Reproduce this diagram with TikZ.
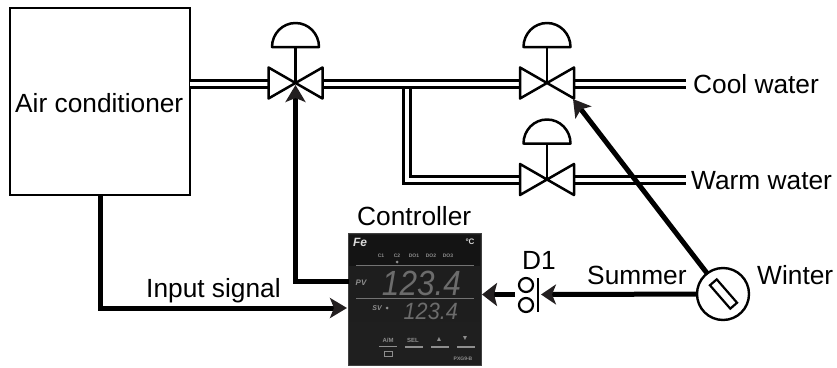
\documentclass[tikz,border=0pt]{standalone}
\usepackage{fontspec}
\setmainfont{Liberation Sans}
\usetikzlibrary{arrows.meta}
\definecolor{ink}{HTML}{231F20}
\definecolor{panel}{HTML}{1E1E1E}
\definecolor{seg}{HTML}{6C6C6C}
\definecolor{lab}{HTML}{8E8E8E}
\tikzset{
  x=1pt,y=-1pt,
  label text/.style={anchor=base west,inner sep=0pt,text=black,font=\fontsize{26.3}{30}\selectfont},
  pipe/.style={draw=black,line width=3pt,double=white,double distance=4pt},
  valve/.pic={
    \draw[line width=2.5pt,line join=round,fill=white] (-27,-15.5) -- (27,15.5) -- (27,-15.5) -- (-27,15.5) -- cycle;
    \draw[line width=2.5pt] (0,0) -- (0,-36);
    \draw[line width=2.5pt,line join=round,fill=white] (-23.5,-36) .. controls (-23.5,-49.3) and (-13,-60) .. (0,-60) .. controls (13,-60) and (23.5,-49.3) .. (23.5,-36) -- cycle;
  },
  signal/.style={draw=black,line width=5pt,line join=miter},
  head/.style={-{Stealth[length=#1,width=20pt,inset=4pt,color=ink]}},
  head/.default=17pt,
  seglabel/.style={inner sep=0pt,text=lab,font=\fontsize{5}{6}\selectfont\bfseries},
  keybar/.style={draw=lab,line width=1.6pt},
  port/.style={circle,draw=black,line width=2.2pt,minimum size=14pt,inner sep=0pt,outer sep=0pt,fill=white},
}
\begin{document}
\begin{tikzpicture}
\useasboundingbox (0,0) rectangle (837,367);
% named points
\coordinate (v1) at (295.5,83);
\coordinate (v2) at (547,83);
\coordinate (v3) at (547,179.5);
\coordinate (v1l) at (268,83.5);
\coordinate (v1r) at (324,83.5);
\coordinate (v2l) at (520,83.5);
\coordinate (v2r) at (575,83.5);
\coordinate (v3l) at (520,179.5);
\coordinate (v3r) at (575,179.5);
\coordinate (cool) at (686,83.5);
\coordinate (warm) at (686,179.5);
\coordinate (tee) at (407,83.5);
\coordinate (teeb) at (407,179.5);
\coordinate (v1tip) at (295.5,85);
\coordinate (v2tip) at (573,99);
\coordinate (ctrlin) at (347,308);
\coordinate (ctrlout) at (349,281);
\coordinate (ctrlback) at (482,294.5);
\coordinate (d1wire) at (515,294.5);
\coordinate (d1tip) at (541,294.5);

% air conditioner
\node[draw=black,line width=2pt,minimum width=180pt,minimum height=187pt,inner sep=0pt,outer sep=1pt] (ac) at (100,101) {};
\node[label text] (actext) at (15,112) {Air conditioner};
\coordinate (acr) at (190,83.5);

% pipes
\draw[pipe] (tee) -- (teeb) -- (v3l);
\draw[pipe] (acr) -- (v1l);
\draw[pipe] (v1r) -- (v2l);
\draw[pipe] (v2r) -- (cool);
\draw[pipe] (v3r) -- (warm);

% valves
\pic at (v1) {valve};
\pic at (v2) {valve};
\pic at (v3) {valve};

% controller
\node[draw=black!75,line width=1pt,fill=panel,minimum width=133pt,minimum height=132pt,inner sep=0pt,outer sep=0pt] (ctrl) at (414.5,299.5) {};
\fill[black!92] (ctrl.north west) ++(1,1) rectangle (480,266);
\fill[black!88] (349,322) rectangle (480,365);
\draw[black!55,line width=.6pt] (356,265) -- (474,265);
\draw[black!55,line width=.6pt] (356,298) -- (474,298);
\node[inner sep=0pt,text=white!85!black,font=\fontsize{12}{12}\selectfont\bfseries\itshape] (logo) at (360,242) {Fe};
\node[inner sep=0pt,text=white!85!black,font=\fontsize{8}{8}\selectfont\bfseries] (degc) at (470,242) {°C};
\node[seglabel] (c1) at (381,256) {C1};
\node[seglabel] (c2) at (397,256) {C2};
\node[seglabel] (do1) at (414,256) {DO1};
\node[seglabel] (do2) at (431,256) {DO2};
\node[seglabel] (do3) at (448,256) {DO3};
\fill[lab] (397,262) circle (1.5);
\node[inner sep=0pt,text=lab,font=\fontsize{8}{8}\selectfont\bfseries\itshape] (pv) at (361,283) {PV};
\node[inner sep=0pt,text=lab,font=\fontsize{7}{7}\selectfont\bfseries\itshape] (sv) at (377,308) {SV};
\fill[lab] (387,308) circle (1.5);
\node[anchor=base east,inner sep=0pt,text=seg,font=\fontsize{35}{35}\selectfont\itshape,xscale=.9] (pvval) at (461,295) {123.4};
\node[anchor=base east,inner sep=0pt,text=seg,font=\fontsize{23.5}{24}\selectfont\itshape,xscale=.92] (svval) at (458,319) {123.4};
\node[seglabel,font=\fontsize{6}{6}\selectfont\bfseries] (am) at (388,340) {A/M};
\node[seglabel,font=\fontsize{6}{6}\selectfont\bfseries] (sel) at (413,340) {SEL};
\node[seglabel,font=\fontsize{7}{7}\selectfont] (up) at (439,339) {▲};
\node[seglabel,font=\fontsize{7}{7}\selectfont] (down) at (465,339) {▼};
\draw[keybar,line width=1pt] (379,346) -- (397,346);
\draw[keybar] (405,347) -- (423,347);
\draw[keybar] (431,347) -- (449,347);
\draw[keybar] (457,347) -- (475,347);
\draw[lab,line width=.8pt] (384,351) rectangle (392,356);
\node[seglabel,font=\fontsize{5}{5}\selectfont\bfseries] (model) at (463,359) {PXG9-B};

% signals
\draw[signal,head] (ac.south) |- (ctrlin);
\draw[signal,head] (ctrlout) -| (v1tip);

% D1 contact
\node[port] (d1a) at (526,285) {};
\node[port] (d1b) at (526,305) {};
\coordinate (d1top) at (538,278);
\coordinate (d1bot) at (538,312);
\draw[line width=2.2pt] (d1top) -- (d1bot);

% selector
\node[circle,draw=black,line width=2.4pt,fill=white,minimum size=52pt,inner sep=0pt,outer sep=0pt] (sw) at (723,294) {};
\node[draw=black,line width=2.2pt,fill=white,minimum width=31pt,minimum height=9pt,inner sep=0pt,rotate=-49] (swbar) at (723.5,294) {};
\draw[signal,head] (sw) -- (v2tip);
\draw[signal,head=15pt] (sw) -- (d1tip);
\draw[signal,-{Stealth[length=15pt,width=23pt,inset=3pt,color=ink]}] (d1wire) -- (ctrlback);

% labels
\node[label text] (lcool) at (693,93) {Cool water};
\node[label text] (lwarm) at (691,189) {Warm water};
\node[label text] (lctrl) at (357,225) {Controller};
\node[label text] (linput) at (146,297) {Input signal};
\node[label text] (ld1) at (522,269) {D1};
\node[label text] (lsummer) at (587,284) {Summer};
\node[label text] (lwinter) at (757,284) {Winter};
\end{tikzpicture}
\end{document}
